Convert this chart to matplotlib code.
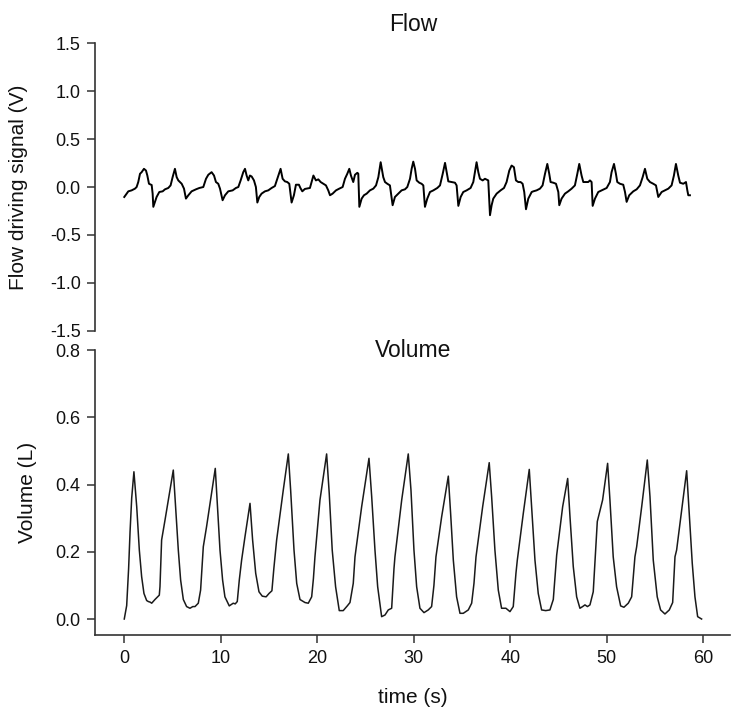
#!/usr/bin/env python3

import matplotlib
matplotlib.use("Agg")
import matplotlib.pyplot as plt

# flow driving signal (V) vs time (s)
flow_t = [0.00, 0.42, 0.76, 1.11, 1.28, 1.45, 1.63, 1.80, 2.04, 2.25, 2.39, 2.56, 2.84, 2.94, 3.01,
          3.18, 3.35, 3.63, 3.98, 4.22, 4.56, 4.80, 5.01, 5.25, 5.43, 5.60, 5.95, 6.19, 6.39, 6.64,
          6.98, 7.43, 7.78, 8.19, 8.47, 8.71, 9.05, 9.30, 9.50, 9.74, 9.92, 10.19, 10.44, 10.78,
          11.23, 11.57, 11.82, 12.06, 12.33, 12.51, 12.68, 12.85, 13.02, 13.20, 13.44, 13.64,
          13.79, 13.99, 14.23, 14.58, 14.92, 15.27, 15.61, 15.86, 16.20, 16.41, 16.65, 16.89,
          17.10, 17.34, 17.58, 17.79, 18.10, 18.25, 18.45, 18.72, 19.24, 19.60, 19.86, 20.11,
          20.35, 20.63, 20.90, 21.14, 21.32, 21.59, 21.94, 22.28, 22.63, 22.87, 23.11, 23.32,
          23.49, 23.73, 23.91, 24.15, 24.25, 24.36, 24.60, 24.84, 25.12, 25.46, 25.81, 26.09,
          26.33, 26.57, 26.84, 27.02, 27.26, 27.53, 27.81, 28.05, 28.40, 28.74, 29.09, 29.33,
          29.61, 29.78, 29.95, 30.13, 30.30, 30.57, 30.81, 30.99, 31.16, 31.40, 31.68, 32.03,
          32.44, 32.72, 33.00, 33.24, 33.41, 33.58, 33.93, 34.27, 34.44, 34.62, 34.86, 35.13,
          35.48, 35.89, 36.17, 36.34, 36.51, 36.69, 36.86, 37.14, 37.38, 37.72, 37.90, 38.07,
          38.24, 38.59, 39.00, 39.35, 39.62, 39.90, 40.14, 40.38, 40.59, 40.83, 41.07, 41.28,
          41.45, 41.63, 41.87, 42.22, 42.39, 42.73, 43.08, 43.35, 43.60, 43.84, 44.04, 44.18,
          44.46, 44.74, 44.98, 45.08, 45.32, 45.67, 46.01, 46.36, 46.70, 46.95, 47.15, 47.39,
          47.57, 47.84, 48.08, 48.26, 48.43, 48.54, 48.78, 49.12, 49.47, 49.99, 50.33, 50.50,
          50.75, 50.95, 51.09, 51.37, 51.71, 51.89, 52.06, 52.33, 52.75, 53.10, 53.44, 53.72,
          53.96, 54.20, 54.48, 54.82, 55.10, 55.34, 55.69, 56.03, 56.38, 56.72, 56.96, 57.17,
          57.41, 57.59, 57.93, 58.21, 58.35, 58.45, 58.62]
flow_v = [-0.104, -0.045, -0.035, -0.017, 0.000, 0.052, 0.138, 0.155, 0.190, 0.172, 0.120, 0.034,
          0.021, -0.069, -0.207, -0.155, -0.104, -0.052, -0.045, -0.024, -0.010, 0.017, 0.103,
          0.190, 0.103, 0.069, 0.034, -0.017, -0.121, -0.086, -0.045, -0.024, -0.010, 0.000,
          0.086, 0.128, 0.155, 0.120, 0.052, 0.034, -0.017, -0.138, -0.086, -0.045, -0.035,
          -0.010, 0.000, 0.069, 0.155, 0.190, 0.120, 0.069, 0.120, 0.110, 0.069, 0.000, -0.162,
          -0.104, -0.069, -0.045, -0.035, -0.010, 0.010, 0.086, 0.190, 0.086, 0.059, 0.052,
          0.034, -0.162, -0.086, 0.024, 0.024, -0.010, -0.045, -0.020, -0.010, 0.120, 0.069,
          0.080, 0.052, 0.034, 0.017, -0.035, -0.086, -0.069, -0.035, -0.017, 0.000, 0.086,
          0.138, 0.190, 0.120, 0.052, 0.128, 0.148, 0.140, -0.207, -0.121, -0.086, -0.069,
          -0.035, -0.017, 0.017, 0.103, 0.259, 0.103, 0.052, 0.034, 0.017, -0.190, -0.104,
          -0.069, -0.035, -0.024, 0.000, 0.086, 0.190, 0.265, 0.190, 0.069, 0.045, 0.034,
          0.017, -0.207, -0.121, -0.052, -0.035, -0.010, 0.017, 0.138, 0.252, 0.155, 0.059,
          0.052, 0.045, 0.017, -0.197, -0.104, -0.052, -0.035, -0.010, 0.052, 0.155, 0.259,
          0.155, 0.086, 0.069, 0.086, 0.069, -0.294, -0.190, -0.121, -0.069, -0.035, -0.010,
          0.052, 0.172, 0.224, 0.207, 0.069, 0.052, 0.052, 0.034, -0.052, -0.232, -0.121,
          -0.052, -0.045, -0.035, -0.017, 0.017, 0.138, 0.241, 0.138, 0.052, 0.045, 0.034,
          -0.052, -0.190, -0.121, -0.069, -0.045, -0.017, 0.017, 0.138, 0.241, 0.120, 0.052,
          0.052, 0.052, 0.069, 0.052, -0.197, -0.121, -0.052, -0.035, -0.010, 0.052, 0.155,
          0.241, 0.138, 0.052, 0.034, 0.024, -0.052, -0.155, -0.086, -0.045, -0.024, 0.017,
          0.103, 0.190, 0.086, 0.052, 0.034, 0.017, -0.104, -0.052, -0.035, -0.017, 0.017,
          0.120, 0.241, 0.120, 0.045, 0.034, 0.052, -0.035, -0.086, -0.086]

# volume (L) vs time (s)
vol_t = [0.00, 0.25, 0.45, 0.60, 0.77, 1.00, 1.29, 1.56, 1.80, 2.04, 2.32, 2.49, 2.70, 2.84, 3.18,
         3.63, 3.70, 3.87, 4.22, 4.74, 5.08, 5.32, 5.60, 5.84, 6.12, 6.46, 6.81, 7.10, 7.33, 7.67,
         7.91, 8.19, 8.53, 9.05, 9.43, 9.64, 9.92, 10.19, 10.43, 10.88, 11.29, 11.50, 11.71,
         11.92, 12.16, 12.51, 13.03, 13.30, 13.62, 13.96, 14.30, 14.70, 15.00, 15.30, 15.50,
         15.79, 16.48, 17.00, 17.24, 17.59, 17.87, 18.21, 18.73, 19.07, 19.42, 19.60, 19.76,
         20.28, 20.97, 21.24, 21.55, 21.90, 22.28, 22.69, 23.11, 23.39, 23.73, 23.91, 24.60,
         25.36, 25.64, 25.98, 26.26, 26.67, 27.02, 27.36, 27.71, 27.95, 28.05, 28.75, 29.43,
         29.71, 30.02, 30.30, 30.64, 31.06, 31.50, 31.85, 32.09, 32.30, 32.89, 33.58, 33.82,
         34.10, 34.44, 34.79, 35.13, 35.65, 36.00, 36.24, 36.45, 37.14, 37.82, 38.07, 38.41,
         38.76, 39.10, 39.55, 39.97, 40.31, 40.59, 40.73, 41.35, 41.97, 42.21, 42.56, 42.90,
         43.25, 43.67, 44.11, 44.46, 44.81, 45.43, 45.95, 46.19, 46.53, 46.88, 47.22, 47.50,
         47.74, 48.00, 48.26, 48.60, 49.02, 49.57, 50.09, 50.33, 50.67, 51.02, 51.44, 51.78,
         52.23, 52.58, 52.92, 53.10, 53.62, 54.20, 54.48, 54.82, 55.23, 55.58, 56.03, 56.48,
         56.83, 57.07, 57.24, 57.76, 58.28, 58.55, 58.86, 59.14, 59.42, 59.83]
vol_v = [0.000, 0.040, 0.150, 0.260, 0.360, 0.438, 0.334, 0.205, 0.126, 0.076, 0.055, 0.052, 0.050,
         0.047, 0.058, 0.071, 0.096, 0.235, 0.294, 0.384, 0.443, 0.334, 0.205, 0.116, 0.058,
         0.037, 0.032, 0.037, 0.037, 0.047, 0.086, 0.215, 0.275, 0.374, 0.448, 0.344, 0.205,
         0.116, 0.066, 0.039, 0.047, 0.045, 0.052, 0.116, 0.175, 0.245, 0.344, 0.235, 0.136,
         0.081, 0.068, 0.066, 0.076, 0.084, 0.150, 0.235, 0.384, 0.491, 0.384, 0.205, 0.106,
         0.058, 0.049, 0.047, 0.066, 0.120, 0.185, 0.354, 0.491, 0.374, 0.205, 0.096, 0.025,
         0.025, 0.039, 0.049, 0.106, 0.185, 0.334, 0.478, 0.364, 0.205, 0.096, 0.007, 0.012,
         0.027, 0.032, 0.150, 0.185, 0.354, 0.491, 0.384, 0.205, 0.096, 0.032, 0.019, 0.027,
         0.037, 0.100, 0.185, 0.304, 0.425, 0.314, 0.175, 0.066, 0.017, 0.017, 0.027, 0.047,
         0.106, 0.185, 0.334, 0.465, 0.364, 0.205, 0.086, 0.032, 0.032, 0.022, 0.037, 0.136,
         0.175, 0.314, 0.445, 0.334, 0.175, 0.076, 0.027, 0.025, 0.027, 0.058, 0.190, 0.334,
         0.418, 0.304, 0.156, 0.066, 0.032, 0.037, 0.042, 0.037, 0.042, 0.081, 0.290, 0.354,
         0.463, 0.354, 0.185, 0.096, 0.039, 0.035, 0.047, 0.066, 0.185, 0.215, 0.334, 0.473,
         0.364, 0.175, 0.066, 0.027, 0.015, 0.027, 0.049, 0.185, 0.205, 0.324, 0.441, 0.314,
         0.166, 0.066, 0.007, 0.000]

flow_ticks = [-1.5, -1.0, -0.5, 0.0, 0.5, 1.0, 1.5]
vol_ticks = [0.0, 0.2, 0.4, 0.6, 0.8]
time_ticks = [0, 10, 20, 30, 40, 50, 60]

AXIS_COLOR = "#333333"
TEXT_COLOR = "#111111"


def style_axis(ax):
    for side in ["top", "right"]:
        ax.spines[side].set_visible(False)
    for side in ["left", "bottom"]:
        ax.spines[side].set_color(AXIS_COLOR)
        ax.spines[side].set_linewidth(1.2)
    ax.tick_params(direction="out", length=5.5, width=1.1, color=AXIS_COLOR,
                   labelsize=13, labelcolor=TEXT_COLOR, pad=5)


def main():
    plt.rcParams["font.family"] = ["Liberation Sans", "DejaVu Sans"]
    plt.rcParams["axes.unicode_minus"] = False

    fig = plt.figure(figsize=(7.31, 7.16), dpi=100)
    ax_flow = fig.add_axes([0.1304, 0.5381, 0.8686, 0.4014])
    ax_vol = fig.add_axes([0.1304, 0.1131, 0.8686, 0.3980])

    # flow panel
    ax_flow.plot(flow_t, flow_v, color="black", linewidth=1.4)
    style_axis(ax_flow)
    ax_flow.spines["bottom"].set_visible(False)
    ax_flow.set_xlim(-3, 62.8)
    ax_flow.set_ylim(-1.5, 1.5)
    ax_flow.set_yticks(flow_ticks)
    ax_flow.set_yticklabels([f"{v:.1f}" for v in flow_ticks])
    ax_flow.set_xticks([])
    ax_flow.set_title("Flow", fontsize=16.5, color=TEXT_COLOR, pad=9)
    ax_flow.set_ylabel("Flow driving signal (V)", fontsize=15, color=TEXT_COLOR)
    ax_flow.yaxis.set_label_coords(-0.106, 0.5)

    # volume panel
    ax_vol.plot(vol_t, vol_v, color="#1a1a1a", linewidth=1.1)
    style_axis(ax_vol)
    ax_vol.set_xlim(-3, 62.8)
    ax_vol.set_ylim(-0.0476, 0.8)
    ax_vol.set_yticks(vol_ticks)
    ax_vol.set_yticklabels([f"{v:.1f}" for v in vol_ticks])
    ax_vol.set_xticks(time_ticks)
    ax_vol.text(0.5, 0.9765, "Volume", transform=ax_vol.transAxes, ha="center",
                va="baseline", fontsize=16.5, color=TEXT_COLOR)
    ax_vol.set_ylabel("Volume (L)", fontsize=15, color=TEXT_COLOR)
    ax_vol.yaxis.set_label_coords(-0.0923, 0.5)
    ax_vol.set_xlabel("time (s)", fontsize=15, color=TEXT_COLOR)
    ax_vol.xaxis.set_label_coords(0.5, -0.186)
    ax_vol.xaxis.label.set_verticalalignment("top")

    fig.savefig("out.png", dpi=100)


if __name__ == "__main__":
    main()
